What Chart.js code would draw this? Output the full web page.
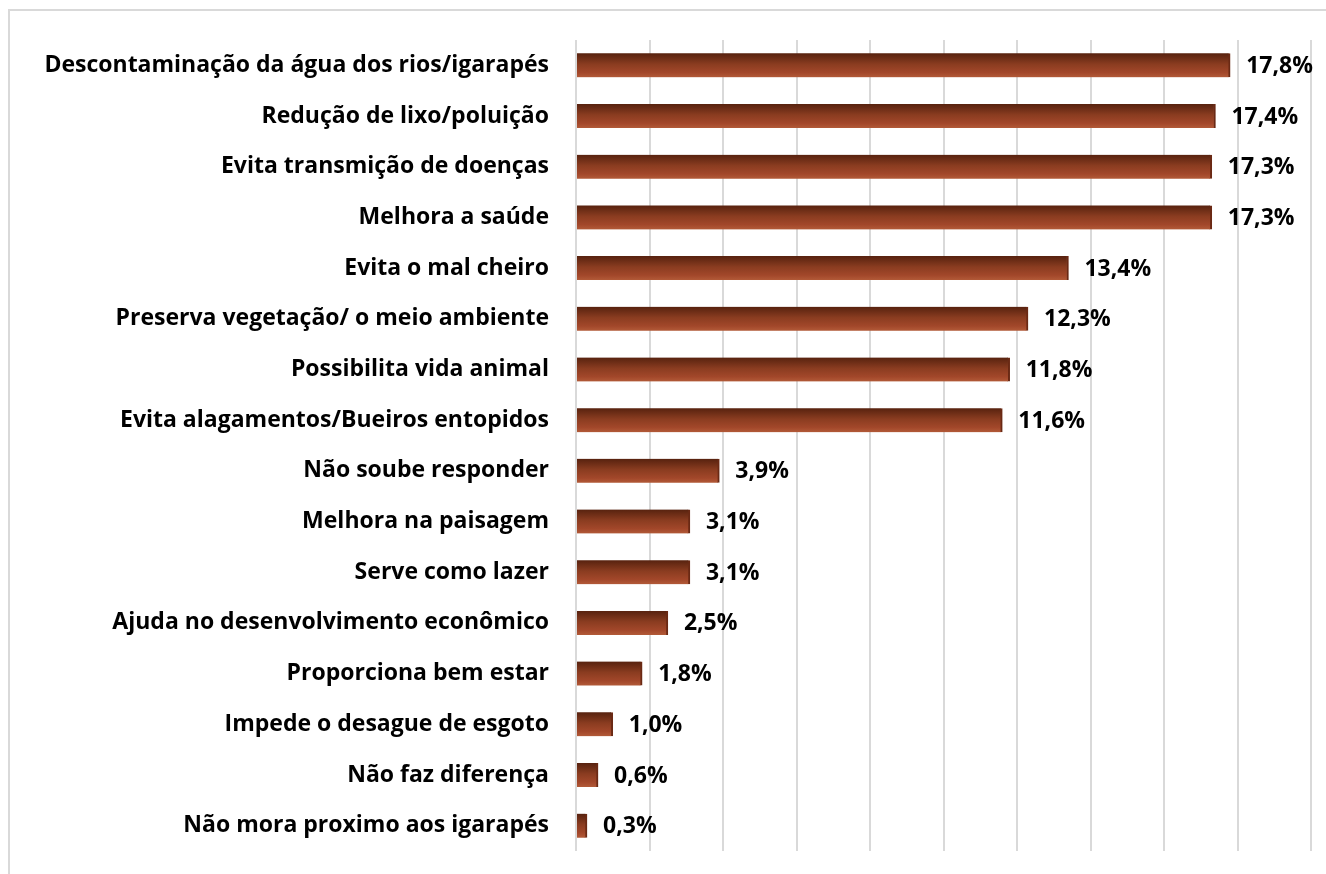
<!DOCTYPE html>
<html>
<head>
<meta charset="utf-8">
<script src="https://cdn.jsdelivr.net/npm/chart.js@4"></script>
<style>
  html, body { margin: 0; padding: 0; background: #fff; }
  #wrap { position: relative; width: 1326px; height: 874px; overflow: hidden; }
  #frame { position: absolute; left: 8px; top: 9px; width: 1400px; height: 900px;
           border-left: 2px solid #d9d9d9; border-top: 2px solid #d9d9d9; }
  canvas { position: absolute; left: 0; top: 0; }
</style>
</head>
<body>
<div id="wrap">
  <div id="frame"></div>
  <canvas id="myChart" width="1326" height="874"></canvas>
</div>
<script>
const categories = [
  'Descontaminação da água dos rios/igarapés',
  'Redução de lixo/poluição',
  'Evita transmição de doenças',
  'Melhora a saúde',
  'Evita o mal cheiro',
  'Preserva vegetação/ o meio ambiente',
  'Possibilita vida animal',
  'Evita alagamentos/Bueiros entopidos',
  'Não soube responder',
  'Melhora na paisagem',
  'Serve como lazer',
  'Ajuda no desenvolvimento econômico',
  'Proporciona bem estar',
  'Impede o desague de esgoto',
  'Não faz diferença',
  'Não mora proximo aos igarapés'
];
const percentages = [17.8, 17.4, 17.3, 17.3, 13.4, 12.3, 11.8, 11.6, 3.9, 3.1, 3.1, 2.5, 1.8, 1.0, 0.6, 0.3];

const labelFont = { family: 'Open Sans', size: 23, weight: 'bold' };

// values printed after each bar
const valueLabels = {
  id: 'valueLabels',
  afterDatasetsDraw(chart) {
    const c = chart.ctx;
    const meta = chart.getDatasetMeta(0);
    c.save();
    c.font = 'bold 23px "Open Sans"';
    c.fillStyle = '#000';
    c.textBaseline = 'middle';
    meta.data.forEach((bar, i) => {
      const txt = percentages[i].toFixed(1).replace('.', ',') + '%';
      c.fillText(txt, bar.x + 16, bar.y + 1);
    });
    c.restore();
  }
};

function barFill(context) {
  if (context.type !== 'data') return '#9c4424';
  const chart = context.chart;
  const y = chart.scales.y ? chart.scales.y.getPixelForValue(context.dataIndex) : NaN;
  if (!isFinite(y)) return '#9c4424';
  const g = chart.ctx.createLinearGradient(0, y - 12, 0, y + 12);
  g.addColorStop(0, '#57220f');
  g.addColorStop(0.45, '#8a3c20');
  g.addColorStop(0.8, '#a2472a');
  g.addColorStop(1, '#b25a38');
  return g;
}

new Chart(document.getElementById('myChart'), {
  type: 'bar',
  data: {
    labels: categories,
    datasets: [{
      data: percentages,
      backgroundColor: barFill,
      borderColor: '#6a2914',
      borderWidth: { right: 2, top: 0, bottom: 0, left: 0 },
      borderSkipped: 'start',
      barThickness: 24
    }]
  },
  plugins: [valueLabels],
  options: {
    indexAxis: 'y',
    responsive: false,
    animation: false,
    layout: { padding: { left: 0, right: 15, top: 40, bottom: 23 } },
    plugins: {
      legend: { display: false },
      tooltip: { enabled: false }
    },
    scales: {
      x: {
        min: 0,
        max: 20,
        afterFit(scale) { scale.height = 0; },
        ticks: { stepSize: 2, display: false },
        grid: { color: '#d9d9d9', lineWidth: 2, drawTicks: false },
        border: { display: false }
      },
      y: {
        afterFit(scale) {
          scale.width = 576;
          scale.paddingTop = 0;
          scale.paddingBottom = 0;
        },
        ticks: { color: '#000', font: labelFont, padding: 19 },
        grid: { display: false },
        border: { display: false }
      }
    }
  }
});
</script>
</body>
</html>
